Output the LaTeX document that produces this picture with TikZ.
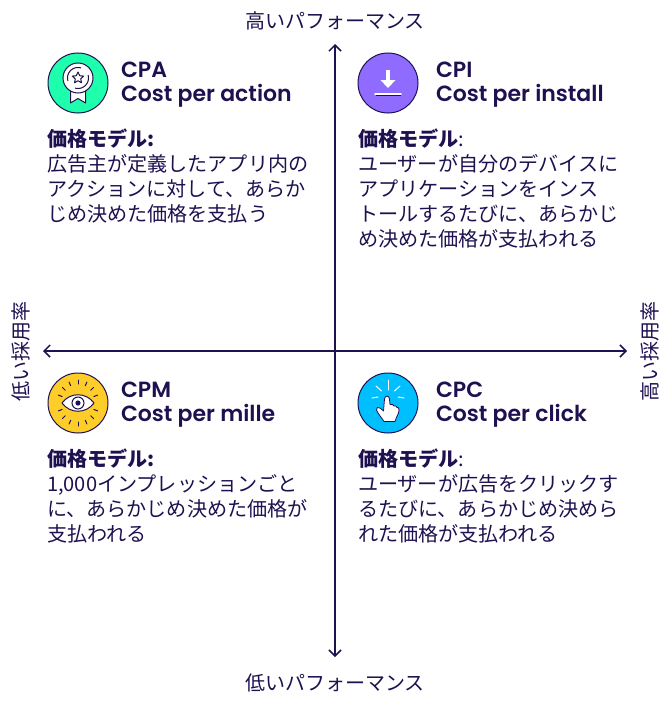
\documentclass[tikz,border=0pt]{standalone}
\usepackage{fontspec}
\setmainfont{Noto Sans CJK JP}
\newfontfamily\latinfont{Poppins}[BoldFont={Poppins SemiBold}]
\usetikzlibrary{arrows.meta,positioning}
\definecolor{ink}{HTML}{1F1050}
\definecolor{cpagreen}{HTML}{1EFFAE}
\definecolor{cpipurple}{HTML}{8F6BFF}
\definecolor{cpmyellow}{HTML}{FFCD29}
\definecolor{cpcblue}{HTML}{00BFFF}

\begin{document}
\begin{tikzpicture}[
        x=1pt, y=-1pt,
        every node/.style={text=ink, inner sep=0pt, outer sep=0pt},
        axis/.style={draw=ink, line width=1.5pt, {Straight Barb[length=6pt,width=12pt]}-{Straight Barb[length=6pt,width=12pt]}},
        axislabel/.style={font=\fontsize{20}{24}\selectfont},
        iconcircle/.style={circle, draw=ink, line width=1pt, minimum size=60pt},
        title/.style={align=left, anchor=north west, font=\latinfont\bfseries\fontsize{22}{23.5}\selectfont},
        desc/.style={align=left, anchor=north west, font=\fontsize{20.1}{25}\selectfont},
        inkline/.style={draw=ink, line width=1pt, line cap=round},
        whiteline/.style={draw=white, line width=1pt, line cap=round}
    ]
    \useasboundingbox (0,0) rectangle (670,701);

    % Axes
    \coordinate (north) at (335,44);
    \coordinate (south) at (335,657);
    \coordinate (west) at (43,351);
    \coordinate (east) at (627,351);
    \draw[axis] (north) -- (south);
    \draw[axis] (west) -- (east);

    % Axis labels
    \node[axislabel] (highperf) at (335,21) {高いパフォーマンス};
    \node[axislabel] (lowperf) at (335,683) {低いパフォーマンス};
    \node[axislabel, rotate=90] (lowrate) at (21,351) {低い採用率};
    \node[axislabel, rotate=90] (highrate) at (650,351) {高い採用率};

    % Icons
    \node[iconcircle, fill=cpagreen] (cpa) at (78,83) {};
    \node[iconcircle, fill=cpipurple] (cpi) at (388,83) {};
    \node[iconcircle, fill=cpmyellow] (cpm) at (78,403) {};
    \node[iconcircle, fill=cpcblue] (cpc) at (388,403) {};

    % Titles
    \node[title] (cpatitle) at (121,62) {CPA\\Cost per action};
    \node[title] (cpititle) at (436,62) {CPI\\Cost per install};
    \node[title] (cpmtitle) at (121,382) {CPM\\Cost per mille};
    \node[title] (cpctitle) at (436,382) {CPC\\Cost per click};

    % Descriptions
    \node[desc] (cpadesc) at (47,129) {\textbf{価格モデル:}\\広告主が定義したアプリ内の\\アクションに対して、あらか\\じめ決めた価格を支払う};
    \node[desc] (cpidesc) at (358,129) {\textbf{価格モデル}:\\ユーザーが自分のデバイスに\\アプリケーションをインス\\トールするたびに、あらかじ\\め決めた価格が支払われる};
    \node[desc] (cpmdesc) at (47,449) {\textbf{価格モデル:}\\1,000インプレッションごと\\に、あらかじめ決めた価格が\\支払われる};
    \node[desc] (cpcdesc) at (358,449) {\textbf{価格モデル}:\\ユーザーが広告をクリックす\\るたびに、あらかじめ決めら\\れた価格が支払われる};

    % Medal
    \begin{scope}[shift={(cpa.center)}]
        \draw[inkline, fill=white, line join=round] (-7.5,6) -- (-7.5,20) -- (0,15.5) -- (7.5,20) -- (7.5,6);
        \draw[inkline, fill=white] (0,-5) circle (15);
        \draw[inkline] plot[domain=165:285, samples=20] ({10.5*cos(\x)},{-5+10.5*sin(\x)});
        \draw[inkline] plot[domain=-15:105, samples=20] ({10.5*cos(\x)},{-5+10.5*sin(\x)});
        \draw[inkline, line join=round, fill=white] (0,-11) -- (1.7,-7.3) -- (5.7,-6.9) -- (2.7,-4.2) -- (3.5,-0.2) -- (0,-2.3) -- (-3.5,-0.2) -- (-2.7,-4.2) -- (-5.7,-6.9) -- (-1.7,-7.3) -- cycle;
    \end{scope}

    % Download
    \begin{scope}[shift={(cpi.center)}]
        \fill[white] (-1.8,-13) rectangle (1.8,-3);
        \fill[white] (-7.5,-3) -- (7.5,-3) -- (0,5) -- cycle;
        \draw[draw=ink, line width=1pt] (-12,12.5) -- (13,12.5);
        \draw[draw=white, line width=1.8pt, line cap=round] (-13,11) -- (13,11);
    \end{scope}

    % Eye
    \begin{scope}[shift={(cpm.center)}]
        \draw[inkline, fill=white] (-16,0) .. controls (-8,-11) and (8,-11) .. (16,0) .. controls (8,11) and (-8,11) .. (-16,0) -- cycle;
        \draw[inkline] (0,0) circle (6);
        \fill[ink] (0,0) circle (2.6);
        \foreach \ang in {-90,-67,-45,-22,22,45,67,90,113,135,158,202,225,247}
            \draw[inkline] (\ang:{16+3*abs(sin(\ang))}) -- (\ang:{20+3*abs(sin(\ang))});
    \end{scope}

    % Click
    \begin{scope}[shift={(cpc.center)}]
        \draw[whiteline] (0,-23) -- (0,-13);
        \draw[whiteline] (-12,-17) -- (-6.5,-12);
        \draw[whiteline] (12,-17) -- (6.5,-12);
        \draw[whiteline] (-16,-5) -- (-10,-6);
        \draw[whiteline] (16,-5) -- (10,-6);
        \draw[draw=ink, line width=.8pt, fill=white, line join=round] (-3.5,-4) .. controls (-3,-8) and (1,-8) .. (1.5,-4) -- (2,1.5) .. controls (4,1) and (5.5,1.5) .. (6,3) .. controls (7.5,2.5) and (8.5,3) .. (9,4.5) .. controls (10.5,4) and (11,5) .. (11,7) .. controls (11,11) and (8,14) .. (7,18.5) -- (-4,18.5) .. controls (-6,15) and (-10,11) .. (-11.5,7) .. controls (-12,4.5) and (-10,3.5) .. (-8,5) -- (-4.5,8) -- cycle;
    \end{scope}
\end{tikzpicture}
\end{document}
